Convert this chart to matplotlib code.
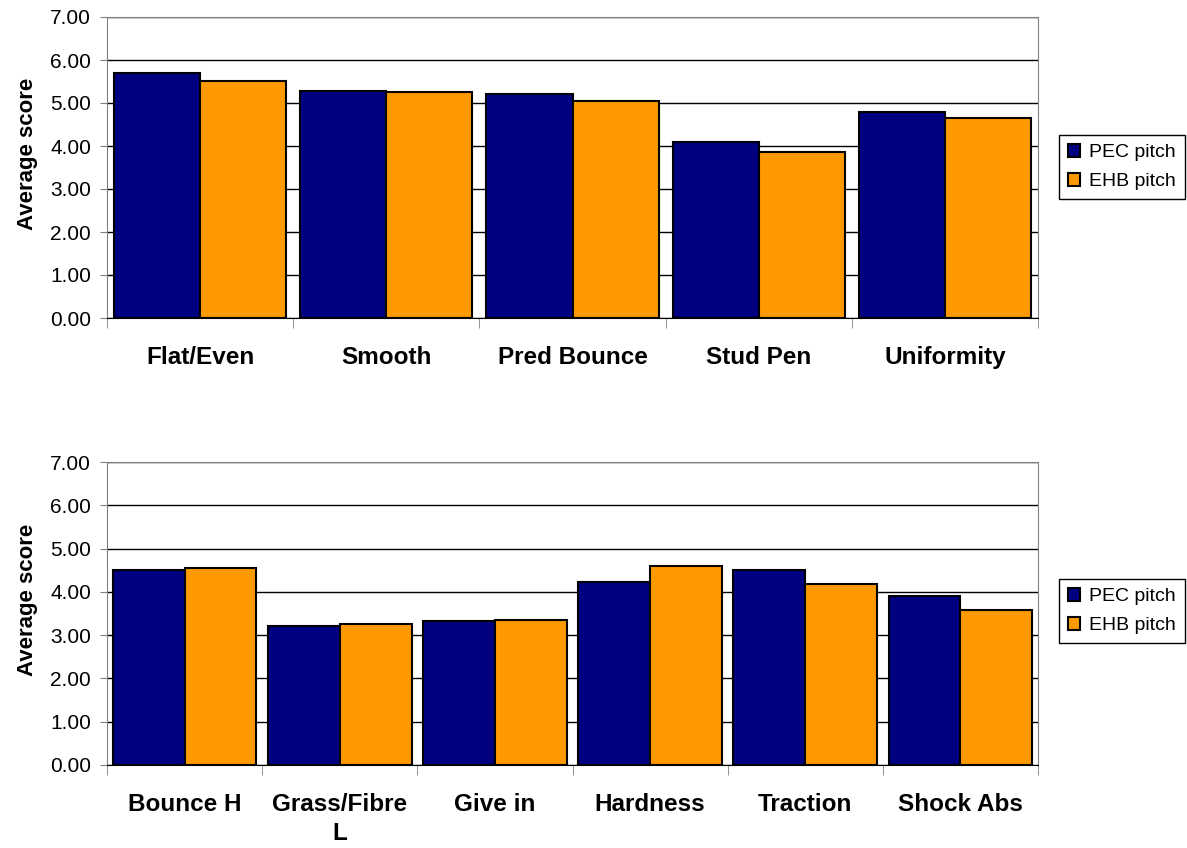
import numpy as np
import matplotlib
matplotlib.use('Agg')
import matplotlib.pyplot as plt
from matplotlib.ticker import FixedLocator, NullFormatter

plt.rcParams['font.family'] = ['Liberation Sans', 'DejaVu Sans']

# data
cats_top = ['Flat/Even', 'Smooth', 'Pred Bounce', 'Stud Pen', 'Uniformity']
pec_top = [5.70, 5.29, 5.21, 4.10, 4.79]
ehb_top = [5.52, 5.25, 5.05, 3.86, 4.64]

cats_bot = ['Bounce H', 'Grass/Fibre\nL', 'Give in', 'Hardness', 'Traction', 'Shock Abs']
pec_bot = [4.50, 3.22, 3.32, 4.23, 4.50, 3.91]
ehb_bot = [4.56, 3.26, 3.36, 4.60, 4.19, 3.58]

series_names = ['PEC pitch', 'EHB pitch']
colors = ['#000080', '#FF9900']
yticks = [0, 1, 2, 3, 4, 5, 6, 7]

W, H = 1187, 848
fig = plt.figure(figsize=(W / 100, H / 100), dpi=100)


def draw(rect, cats, pec, ehb, legend_y):
    ax = fig.add_axes(rect)
    n = len(cats)
    x = np.arange(n)
    w = 0.4625
    ax.bar(x - w / 2, pec, w, color=colors[0], edgecolor='black', linewidth=1.5,
           label=series_names[0], zorder=3)
    ax.bar(x + w / 2, ehb, w, color=colors[1], edgecolor='black', linewidth=1.5,
           label=series_names[1], zorder=3)
    ax.set_xlim(-0.5, n - 0.5)
    ax.set_ylim(0, 7)
    ax.set_yticks(yticks)
    ax.set_yticklabels(['%.2f' % v for v in yticks], fontsize=15)
    ax.yaxis.grid(True, color='black', linewidth=1, zorder=0)
    ax.set_xticks(x)
    ax.set_xticklabels(cats, fontsize=17.5, fontweight='bold', linespacing=1.35)
    ax.tick_params(axis='x', length=0, pad=20)
    ax.xaxis.set_minor_locator(FixedLocator(np.arange(n + 1) - 0.5))
    ax.xaxis.set_minor_formatter(NullFormatter())
    ax.tick_params(axis='x', which='minor', length=7, color='#808080', direction='out')
    ax.tick_params(axis='y', length=5, color='#808080', direction='out', pad=6.5)
    for s in ['top', 'right', 'left']:
        ax.spines[s].set_color('#808080')
    ax.spines['bottom'].set_color('black')
    ax.set_ylabel('Average score', fontsize=16, fontweight='bold')
    ax.yaxis.set_label_coords(-0.074, 0.545)
    ax.legend(loc='center left', bbox_to_anchor=(1059 / W, legend_y),
              bbox_transform=fig.transFigure, fontsize=14, frameon=True,
              fancybox=False, edgecolor='black', framealpha=1,
              handlelength=0.65, handleheight=0.65, handletextpad=0.45,
              borderpad=0.45, labelspacing=0.6, borderaxespad=0)
    return ax


x0 = 107 / W
x1 = 1038 / W
draw([x0, 1 - 318 / H, x1 - x0, (318 - 17) / H], cats_top, pec_top, ehb_top,
     1 - 167 / H)
draw([x0, 1 - 765 / H, x1 - x0, (765 - 462) / H], cats_bot, pec_bot, ehb_bot,
     1 - 611 / H)

fig.savefig('out.png', dpi=100)
